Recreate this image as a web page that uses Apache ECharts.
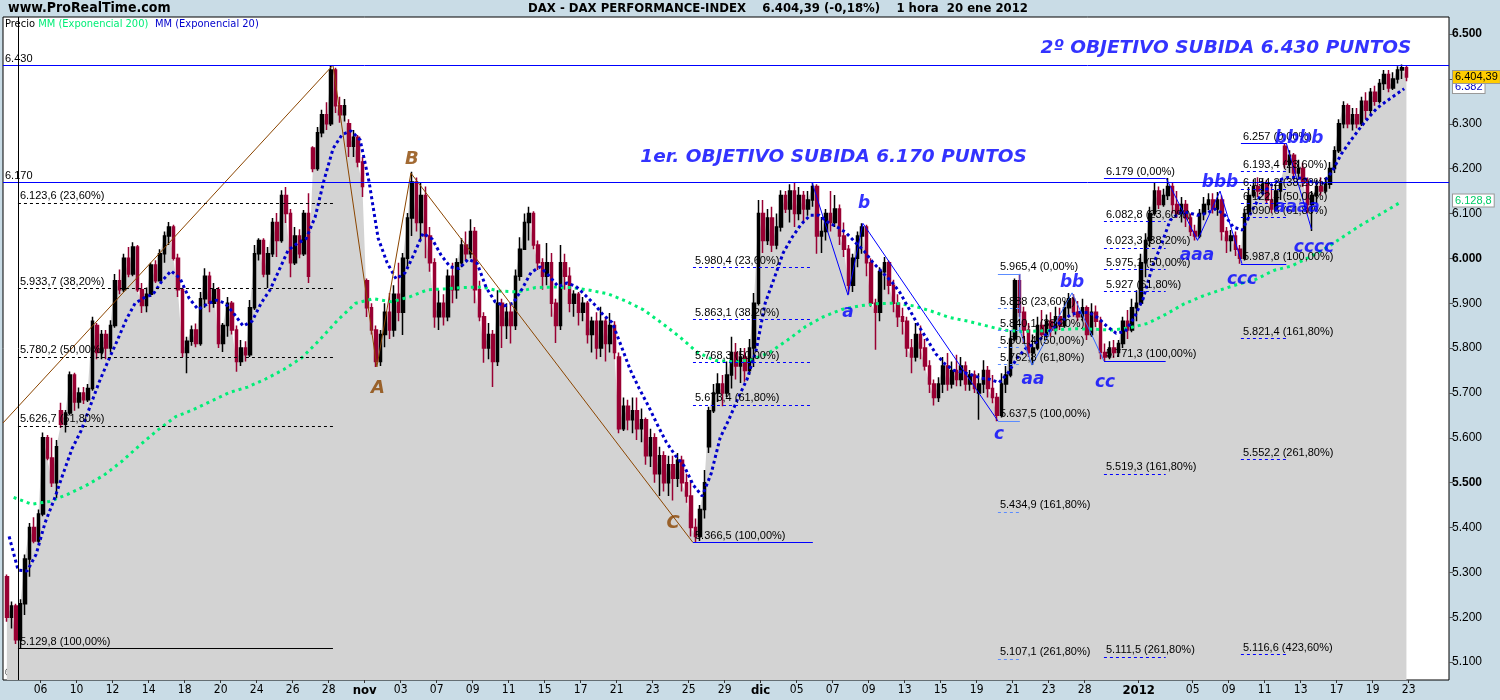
<!DOCTYPE html>
<html>
<head>
<meta charset="utf-8">
<script src="https://cdn.jsdelivr.net/npm/echarts@6.0.0/dist/echarts.min.js"></script>
<style>
  html, body { margin: 0; padding: 0; background: #c9dce6; }
  #chart { width: 1500px; height: 700px; }
</style>
</head>
<body>
<div id="chart"></div>
<script>
// x unit = trading day, 0 = 6 oct 2011; first session on screen is 4 oct
const firstDay = -2;
const barsPerDay = 4;

const tickDays = [0, 2, 4, 6, 8, 10, 12, 14, 16, 18, 20, 22, 24, 26, 28, 30, 32, 34, 36, 38,
  40, 42, 44, 46, 48, 50, 52, 54, 56, 58, 61, 64, 66, 68, 70, 72, 74, 76];
const tickText = ['06', '10', '12', '14', '18', '20', '24', '26', '28', 'nov', '03', '07', '09', '11', '15', '17', '21', '23', '25', '29',
  'dic', '05', '07', '09', '13', '15', '19', '21', '23', '28', '2012', '05', '09', '11', '13', '17', '19', '23'];
const boldTicks = ['nov', 'dic', '2012'];

const priceTicks = [5100, 5200, 5300, 5400, 5500, 5600, 5700, 5800, 5900, 6000, 6100, 6200, 6300, 6400, 6500];

// one row per session, 4 bars each: [open, close, low, high]
const ohlc = [
  [[5290,5200,5190,5295],[5200,5225,5175,5235],[5225,5150,5140,5230],[5150,5230,5130,5240]],
  [[5230,5330,5205,5340],[5330,5400,5290,5410],[5400,5370,5365,5423],[5370,5430,5365,5440]],
  [[5430,5600,5425,5612],[5600,5555,5550,5606],[5555,5500,5490,5600],[5500,5580,5465,5595]],
  [[5660,5630,5622,5678],[5630,5655,5612,5662],[5655,5740,5650,5748],[5740,5680,5660,5745]],
  [[5680,5700,5665,5712],[5700,5685,5675,5713],[5685,5710,5680,5720],[5710,5860,5705,5870]],
  [[5850,5790,5775,5856],[5790,5830,5775,5840],[5830,5800,5775,5840],[5800,5850,5790,5862]],
  [[5850,5950,5845,5965],[5950,5930,5920,5975],[5930,6000,5925,6010],[6000,5965,5958,6025]],
  [[5965,6025,5960,6036],[6025,5930,5925,6030],[5930,5895,5878,5945],[5895,5920,5880,5935]],
  [[5920,5985,5914,5990],[5985,5950,5945,5996],[5950,6010,5950,6020],[6010,6050,5990,6060]],
  [[6050,6070,6030,6081],[6070,6000,5995,6075],[6000,5930,5914,6010],[5930,5790,5780,5935]],
  [[5790,5815,5744,5825],[5815,5840,5805,5850],[5840,5810,5802,5855],[5810,5910,5805,5925]],
  [[5910,5960,5890,5978],[5960,5900,5880,5970],[5900,5930,5890,5945],[5930,5810,5800,5936]],
  [[5810,5850,5791,5856],[5850,5900,5825,5914],[5900,5840,5830,5905],[5840,5770,5747,5850]],
  [[5770,5800,5760,5818],[5800,5785,5770,5815],[5785,5890,5780,5907],[5890,6010,5885,6030]],
  [[6010,6040,5995,6045],[6040,5965,5958,6045],[5965,6010,5934,6025],[6010,6080,6003,6090]],
  [[6080,6040,6003,6101],[6040,6140,6035,6152],[6140,6100,6079,6159],[6100,5990,5958,6110]],
  [[5990,6050,5985,6070],[6050,6010,6000,6065],[6010,6100,6005,6108],[6100,5960,5945,6145]],
  [[6246,6200,6192,6250],[6200,6280,6195,6293],[6280,6320,6270,6331],[6320,6300,6286,6348]],
  [[6300,6420,6295,6431],[6420,6340,6324,6425],[6340,6320,6302,6360],[6320,6340,6305,6355]],
  [[6300,6250,6226,6310],[6250,6270,6226,6286],[6270,6215,6203,6275],[6215,6160,6137,6226]],
  [[5950,5890,5869,5955],[5890,5840,5830,5900],[5840,5770,5758,5850],[5770,5830,5760,5840]],
  [[5830,5880,5802,5900],[5880,5840,5820,5923],[5840,5920,5825,5940],[5920,5880,5860,5990]],
  [[5880,6000,5829,6012],[6000,6090,5981,6101],[6090,6170,6050,6193],[6170,6080,6060,6180]],
  [[6080,6140,6040,6168],[6140,6050,6000,6160],[6050,5990,5970,6070],[5990,5870,5845,6000]],
  [[5870,5900,5840,5929],[5900,5870,5850,5920],[5870,5960,5860,5975],[5960,5930,5900,5990]],
  [[5930,5990,5910,6000],[5990,6030,5980,6045],[6030,6010,5995,6060],[6010,6060,6000,6087]],
  [[6060,5930,5900,6070],[5930,5870,5860,5950],[5870,5800,5767,5880],[5800,5830,5775,5856]],
  [[5830,5770,5713,5840],[5770,5900,5760,5929],[5900,5850,5800,5910],[5850,5880,5820,5900]],
  [[5880,5850,5810,5900],[5850,5960,5840,5975],[5960,6020,5950,6047],[6020,6080,6019,6100]],
  [[6080,6100,6040,6115],[6100,6030,6020,6105],[6030,5990,5974,6040],[5990,5960,5930,6000]],
  [[5960,5990,5940,6034],[5990,5900,5870,6012],[5900,5850,5811,5910],[5850,5990,5840,6030]],
  [[5990,5960,5930,6010],[5960,5900,5880,5980],[5900,5920,5870,5929],[5920,5880,5850,5925]],
  [[5880,5900,5860,5914],[5900,5830,5810,5905],[5830,5860,5790,5870],[5860,5800,5775,5880]],
  [[5800,5860,5780,5892],[5860,5810,5770,5870],[5810,5850,5790,5878],[5850,5790,5775,5860]],
  [[5780,5620,5610,5790],[5620,5670,5615,5690],[5670,5640,5617,5685],[5640,5660,5610,5690]],
  [[5660,5620,5595,5690],[5620,5640,5590,5665],[5640,5560,5540,5645],[5560,5600,5535,5620]],
  [[5600,5520,5500,5610],[5520,5560,5470,5580],[5560,5500,5480,5570],[5500,5540,5470,5560]],
  [[5540,5510,5460,5560],[5510,5550,5490,5566],[5550,5500,5480,5560],[5500,5470,5455,5520]],
  [[5470,5400,5380,5506],[5400,5380,5366,5420],[5380,5440,5370,5450],[5440,5500,5420,5528]],
  [[5580,5660,5566,5669],[5660,5700,5655,5720],[5700,5720,5680,5744],[5720,5700,5670,5740]],
  [[5700,5740,5691,5770],[5740,5790,5710,5825],[5790,5760,5730,5811],[5760,5780,5722,5800]],
  [[5780,5750,5725,5800],[5750,5800,5740,5820],[5800,5900,5758,5923],[5900,6100,5895,6130]],
  [[6100,6040,6012,6130],[6040,6090,6030,6110],[6090,6030,6014,6115],[6030,6070,6020,6100]],
  [[6070,6140,6060,6152],[6140,6110,6101,6150],[6110,6150,6080,6165],[6150,6100,6070,6168]],
  [[6100,6140,6085,6159],[6140,6110,6079,6150],[6110,6130,6095,6150],[6130,6160,6115,6170]],
  [[6160,6050,6010,6165],[6050,6060,6012,6092],[6060,6100,6040,6110],[6100,6080,6060,6150]],
  [[6080,6110,6070,6141],[6110,6050,6030,6120],[6050,6020,6003,6080],[6020,5940,5920,6030]],
  [[5940,6000,5925,6010],[6000,6050,5980,6060],[6050,6070,6010,6078],[6070,5990,5960,6075]],
  [[5990,5900,5892,6000],[5900,5880,5796,5910],[5880,5970,5860,5980],[5970,5990,5930,6003]],
  [[5990,5940,5920,5995],[5940,5900,5880,5952],[5900,5870,5847,5920],[5870,5860,5830,5890]],
  [[5860,5800,5780,5870],[5800,5780,5744,5820],[5780,5830,5770,5856],[5830,5800,5775,5850]],
  [[5800,5760,5750,5820],[5760,5720,5700,5773],[5720,5690,5672,5730],[5690,5720,5680,5735]],
  [[5720,5760,5700,5780],[5760,5720,5705,5789],[5720,5750,5710,5770],[5750,5730,5715,5785]],
  [[5730,5760,5715,5780],[5760,5720,5705,5770],[5720,5740,5705,5751],[5740,5710,5700,5750]],
  [[5700,5720,5640,5744],[5720,5750,5700,5773],[5750,5710,5690,5760],[5710,5690,5677,5740]],
  [[5690,5650,5637,5700],[5650,5720,5645,5744],[5720,5740,5700,5760],[5740,5820,5735,5840]],
  [[5820,5950,5815,5955],[5950,5880,5870,5965],[5880,5840,5811,5892],[5840,5790,5780,5856]],
  [[5790,5800,5762,5830],[5800,5850,5795,5870],[5850,5830,5825,5885],[5830,5860,5820,5875]],
  [[5860,5840,5825,5880],[5840,5870,5830,5892],[5870,5850,5840,5890],[5850,5890,5845,5905]],
  [[5890,5910,5870,5923],[5910,5880,5870,5920],[5880,5870,5860,5905],[5870,5890,5860,5910]],
  [[5890,5830,5818,5895],[5830,5880,5825,5900],[5880,5860,5847,5895],[5860,5790,5775,5870]],
  [[5790,5780,5771,5810],[5780,5800,5775,5815],[5800,5790,5778,5818],[5790,5810,5780,5818]],
  [[5810,5860,5800,5870],[5860,5840,5820,5885],[5840,5890,5835,5910],[5890,5900,5860,5929]],
  [[5900,5990,5895,6010],[5990,6040,5958,6056],[6040,6100,6025,6115],[6100,6150,6095,6168]],
  [[6150,6120,6110,6160],[6120,6140,6115,6155],[6140,6160,6130,6179],[6160,6120,6100,6170]],
  [[6120,6100,6090,6150],[6100,6120,6080,6137],[6120,6090,6070,6130],[6090,6060,6050,6100]],
  [[6060,6050,6040,6075],[6050,6100,6045,6110],[6100,6120,6085,6137],[6120,6130,6108,6145]],
  [[6130,6110,6100,6145],[6110,6130,6095,6148],[6130,6060,6040,6140],[6060,6040,6012,6070]],
  [[6040,6050,6015,6063],[6050,6020,6005,6060],[6020,6000,5988,6030],[6000,6100,5995,6110]],
  [[6100,6140,6085,6159],[6140,6160,6135,6175],[6160,6150,6137,6181],[6150,6165,6140,6178]],
  [[6165,6130,6123,6175],[6130,6110,6101,6159],[6110,6150,6105,6165],[6150,6170,6130,6178]],
  [[6250,6210,6200,6257],[6210,6230,6190,6241],[6230,6190,6175,6235],[6190,6200,6175,6220]],
  [[6200,6170,6159,6213],[6170,6120,6100,6180],[6120,6140,6061,6150],[6140,6160,6123,6175]],
  [[6160,6150,6140,6181],[6150,6165,6145,6180],[6165,6200,6155,6215],[6200,6240,6190,6250]],
  [[6240,6300,6235,6310],[6300,6340,6290,6350],[6340,6300,6290,6345],[6300,6320,6285,6335]],
  [[6320,6300,6290,6335],[6300,6350,6295,6360],[6350,6330,6310,6370],[6330,6370,6320,6380]],
  [[6370,6350,6340,6385],[6350,6390,6345,6400],[6390,6410,6375,6420],[6410,6380,6370,6420]],
  [[6380,6400,6375,6415],[6400,6420,6390,6428],[6420,6425,6400,6432],[6425,6404,6395,6430]]
];

// MM exponencial 20, read twice per session
const ema20 = [
  5380,5305, 5303,5340, 5411,5462, 5520,5576, 5616,5670, 5724,5771, 5816,5863, 5900,5912, 5920,5950, 5972,5955,
  5911,5886, 5898,5907, 5900,5876, 5849,5860, 5900,5930, 5974,6018, 6033,6044, 6092,6175, 6245,6276, 6284,6264,
  6170,6045, 5990,5954, 5968,6010, 6056,6043, 6007,5981, 5977,5998, 5989,5935, 5903,5894, 5900,5932, 5969,5981,
  5961,5937, 5945,5937, 5918,5898, 5874,5857, 5805,5752, 5710,5672, 5630,5591, 5561,5537, 5495,5470, 5520,5600,
  5642,5689, 5731,5795, 5900,5955, 6012,6047, 6076,6096, 6096,6080, 6070,6057, 6036,6016, 5990,5969, 5949,5923,
  5887,5851, 5819,5786, 5764,5750, 5746,5740, 5733,5730, 5723,5745, 5778,5800, 5811,5827, 5845,5861, 5875,5880,
  5879,5867, 5848,5833, 5837,5868, 5910,5980, 6030,6085, 6101,6102, 6096,6100, 6110,6098, 6070,6063, 6103,6139,
  6160,6174, 6180,6180, 6177,6168, 6168,6194, 6232,6261, 6288,6313, 6335,6350, 6364,6378
];

// MM exponencial 200, read once per session
const ema200 = [
  5467,5452,5458,5474,5493,5516,5547,5583,5617,5647,
  5663,5682,5701,5713,5731,5752,5778,5818,5862,5900,
  5910,5903,5914,5930,5932,5935,5936,5927,5925,5935,
  5936,5935,5929,5921,5905,5885,5856,5825,5790,5772,
  5769,5774,5790,5818,5848,5870,5886,5894,5899,5900,
  5894,5882,5868,5860,5850,5840,5837,5838,5841,5843,
  5842,5840,5845,5855,5875,5898,5915,5929,5942,5953,
  5973,5983,6003,6025,6052,6078,6100,6124
];

// hand-drawn waves, [day, price]
const waveABC = [[-2.09, 5633], [16.24, 6430.6], [18.68, 5758], [20.57, 6190], [36.24, 5366.5]];
const waveAbc = [[42.85, 6170], [44.85, 5918], [45.68, 6078], [53.18, 5637.5]];
const waveAaBbCc = [[54.4, 5965.4], [54.4, 5840], [55.07, 5762], [57.3, 5923], [59.07, 5771.3]];
const waveAaaBbbCcc = [[62.52, 6179], [64.27, 6040], [65.52, 6150], [66.74, 5987.8]];
const waveBbbb = [[69.2, 6257], [70.6, 6065]];

const labelsABC = [['A', 18.74, 5711], ['B', 20.63, 6221], ['C', 35.13, 5410]];
const labelsSmall = [['a', 44.85, 5878], ['b', 45.74, 6121], ['c', 53.24, 5608], ['aa', 55.13, 5729], ['bb', 57.3, 5947],
  ['cc', 59.13, 5722], ['aaa', 64.24, 6007], ['bbb', 65.52, 6168], ['ccc', 66.74, 5952], ['aaaa', 69.79, 6114],
  ['bbbb', 69.91, 6266], ['cccc', 70.74, 6025]];
const objectives = [['2º OBJETIVO SUBIDA 6.430 PUNTOS', 55.52, 6469], ['1er. OBJETIVO SUBIDA 6.170 PUNTOS', 33.29, 6226]];
const targets = [[6430, '6.430'], [6170, '6.170']];
const fibAnchorDay = -1.26;

// fibonacci tools: span in days, then [price, text, line kind]
const fibSpan1 = [-1.26, 16.24];
const fibLevels1 = [[6430.6, '6.430,6 (0,00%)', 'none'], [6123.6, '6.123,6 (23,60%)', 'dash'], [5933.7, '5.933,7 (38,20%)', 'dash'],
  [5780.2, '5.780,2 (50,00%)', 'dash'], [5626.7, '5.626,7 (61,80%)', 'dash'], [5129.8, '5.129,8 (100,00%)', 'solid']];
const fibSpan2 = [36.24, 42.9];
const fibLevels2 = [[6170, '6.170 (0,00%)', 'none'], [5980.4, '5.980,4 (23,60%)', 'dash'], [5863.1, '5.863,1 (38,20%)', 'dash'],
  [5768.3, '5.768,3 (50,00%)', 'dash'], [5673.4, '5.673,4 (61,80%)', 'dash'], [5366.5, '5.366,5 (100,00%)', 'solid']];
const fibSpan3 = [53.18, 54.4];
const fibLevels3 = [[5965.4, '5.965,4 (0,00%)', 'solid'], [5888, '5.888 (23,60%)', 'dash'], [5840.1, '5.840,1 (38,20%)', 'dash'],
  [5801.4, '5.801,4 (50,00%)', 'dash'], [5762.8, '5.762,8 (61,80%)', 'dash'], [5637.5, '5.637,5 (100,00%)', 'solid'],
  [5434.9, '5.434,9 (161,80%)', 'dash'], [5107.1, '5.107,1 (261,80%)', 'dash']];
const fibSpan4 = [59.07, 62.5];
const fibLevels4 = [[6179, '6.179 (0,00%)', 'solid'], [6082.8, '6.082,8 (23,60%)', 'dash'], [6023.3, '6.023,3 (38,20%)', 'dash'],
  [5975.1, '5.975,1 (50,00%)', 'dash'], [5927, '5.927 (61,80%)', 'dash'], [5771.3, '5.771,3 (100,00%)', 'solid'],
  [5519.3, '5.519,3 (161,80%)', 'dash'], [5111.5, '5.111,5 (261,80%)', 'dash']];
const fibSpan5 = [66.68, 69.2];
const fibLevels5 = [[6257, '6.257 (0,00%)', 'solid'], [6193.4, '6.193,4 (23,60%)', 'dash'], [6154.2, '6.154,2 (38,20%)', 'dash'],
  [6122.4, '6.122,4 (50,00%)', 'dash'], [6090.6, '6.090,6 (61,80%)', 'dash'], [5987.8, '5.987,8 (100,00%)', 'solid'],
  [5821.4, '5.821,4 (161,80%)', 'dash'], [5552.2, '5.552,2 (261,80%)', 'dash'], [5116.6, '5.116,6 (423,60%)', 'dash']];

const lastPrice = 6404.39;
const lastEma20 = 6382;
const lastEma200 = 6128.8;

const narrow = "'Liberation Sans Narrow','DejaVu Sans Condensed',sans-serif";
const sans = "'Liberation Sans',Arial,sans-serif";
const deja = "'DejaVu Sans',Verdana,sans-serif";
const blue = '#0000ff';
const brown = '#8b4500';
const red = '#990033';
const green = '#00ee77';

const fmt = (v) => {
  const [i, d] = String(v).split('.');
  return i.replace(/\B(?=(\d{3})+(?!\d))/g, '.') + (d ? ',' + d : '');
};

const bars = [];
ohlc.forEach((day, d) => day.forEach((b, k) => {
  bars.push([firstDay + d + (k + 0.5) / barsPerDay, b[0], b[1], b[2], b[3]]);
}));
const closeLine = bars.map((b) => [b[0], b[2]]);
const ema20Line = ema20.map((v, i) => [firstDay + (i + 0.5) / 2, v]);
const ema200Line = ema200.map((v, i) => [firstDay + i + 0.5, v]);

const fibMarks = (span, levels, color) => levels.map(([v, text, kind]) => [
  {
    coord: [span[0], v],
    lineStyle: { color, width: 1, type: kind === 'dash' ? [3, 3] : 'solid', opacity: kind === 'none' ? 0 : 1 },
    label: { show: true, formatter: text, position: 'insideStartTop', distance: [2, 1], color: '#000', fontFamily: sans, fontSize: 11 },
  },
  { coord: [span[1], v] },
]);

const wave = (points, color) => ({
  type: 'line', data: points, showSymbol: false, silent: true, z: 4,
  lineStyle: { color, width: 1 },
});

const textSeries = (items, color, size, extra) => ({
  type: 'scatter', symbolSize: 1, silent: true, z: 6,
  itemStyle: { color: 'transparent' },
  data: items.map(([t, x, y]) => ({ name: t, value: [x, y] })),
  label: Object.assign({
    show: true, position: 'inside', formatter: '{b}', color,
    fontFamily: deja, fontSize: size, fontWeight: 'bold', fontStyle: 'italic',
  }, extra || {}),
});

const chart = echarts.init(document.getElementById('chart'));

chart.setOption({
  animation: false,
  backgroundColor: '#c9dce6',
  grid: { left: 3, right: 51, top: 17, bottom: 20, show: true, backgroundColor: '#fff', borderColor: '#000', borderWidth: 1 },
  xAxis: {
    type: 'value', min: -2.09, max: 78.24,
    axisLine: { show: false, onZero: false },
    splitLine: { show: false },
    axisTick: { show: true, customValues: tickDays, length: 3, lineStyle: { color: '#333' } },
    axisLabel: {
      customValues: tickDays, margin: 4, color: '#000', fontFamily: narrow, fontSize: 12,
      formatter: (v) => {
        const t = tickText[tickDays.indexOf(v)] || '';
        return boldTicks.includes(t) ? '{b|' + t + '}' : t;
      },
      rich: { b: { fontWeight: 'bold', fontFamily: narrow, fontSize: 13 } },
    },
  },
  yAxis: {
    type: 'value', position: 'right', min: 5060, max: 6538,
    axisLine: { show: false, onZero: false },
    splitLine: { show: false },
    axisTick: { show: true, customValues: priceTicks, length: 4, lineStyle: { color: '#555' } },
    axisLabel: {
      customValues: priceTicks, margin: 3, color: '#000', fontFamily: sans, fontSize: 12,
      formatter: (v) => (v % 500 === 0 ? '{b|' + fmt(v) + '}' : fmt(v)),
      rich: { b: { fontWeight: 'bold', fontFamily: sans, fontSize: 12 } },
    },
  },
  series: [
    {
      type: 'line', data: closeLine, showSymbol: false, silent: true, z: 1,
      lineStyle: { width: 0 },
      areaStyle: { color: '#d3d3d3', opacity: 1, origin: 'start' },
      markLine: {
        silent: true, symbol: ['none', 'none'], animation: false,
        data: [
          ...targets.map(([v, t]) => ({
            yAxis: v, lineStyle: { color: blue, width: 1, type: 'solid' },
            label: { show: true, formatter: t, position: 'insideStartTop', distance: [2, 1], color: '#000', fontFamily: sans, fontSize: 11 },
          })),
          { xAxis: fibAnchorDay, lineStyle: { color: '#000', width: 1, type: 'solid' }, label: { show: false } },
          ...fibMarks(fibSpan1, fibLevels1, '#000'),
          ...fibMarks(fibSpan2, fibLevels2, blue),
          ...fibMarks(fibSpan3, fibLevels3, '#5b8cff'),
          ...fibMarks(fibSpan4, fibLevels4, blue),
          ...fibMarks(fibSpan5, fibLevels5, blue),
        ],
      },
    },
    {
      type: 'candlestick', data: bars, encode: { x: 0, y: [1, 2, 3, 4] },
      barWidth: 3, silent: true, z: 2,
      itemStyle: { color: '#000', color0: red, borderColor: '#000', borderColor0: red, borderWidth: 1.5 },
    },
    {
      type: 'line', data: ema200Line, showSymbol: false, silent: true, z: 3,
      lineStyle: { color: green, width: 3, type: [3, 4] },
    },
    {
      type: 'line', data: ema20Line, showSymbol: false, silent: true, z: 3,
      lineStyle: { color: '#0000cc', width: 3, type: [3, 3] },
    },
    wave(waveABC, brown),
    wave(waveAbc, blue),
    wave(waveAaBbCc, '#3366ff'),
    wave(waveAaaBbbCcc, blue),
    wave(waveBbbb, blue),
    textSeries(labelsABC, brown, 18),
    textSeries(labelsSmall, blue, 17),
    textSeries(objectives, blue, 18.5, { position: 'right', distance: 0 }),
  ],
});

const py = (v) => chart.convertToPixel({ yAxisIndex: 0 }, v);
const tag = (v, text, fill, bg, z) => ({
  type: 'text', x: 1453, y: py(v), z,
  style: {
    text, fill, backgroundColor: bg, borderColor: '#999', borderWidth: 1,
    padding: [1, 2, 0, 2], font: '11px ' + sans, verticalAlign: 'middle',
  },
});

chart.setOption({
  graphic: [
    { type: 'text', left: 8, top: 1, style: { text: 'www.ProRealTime.com', font: 'bold 14px ' + narrow, fill: '#000' } },
    {
      type: 'text', x: 778, y: 2,
      style: { text: 'DAX - DAX PERFORMANCE-INDEX    6.404,39 (-0,18%)    1 hora  20 ene 2012', textAlign: 'center', font: 'bold 13px ' + narrow, fill: '#000' },
    },
    {
      type: 'text', x: 5, y: 18,
      style: {
        text: '{a|Precio} {g|MM (Exponencial 200)}  {b|MM (Exponencial 20)}',
        rich: {
          a: { fill: '#000', font: '11px ' + narrow },
          g: { fill: green, font: '11px ' + narrow },
          b: { fill: '#0000cc', font: '11px ' + narrow },
        },
      },
    },
    { type: 'text', x: 5, y: 668, style: { text: '© ProRealTime.com', font: '10px ' + sans, fill: '#000' } },
    tag(lastEma200, fmt(lastEma200), '#00cc66', '#fff', 10),
    tag(lastEma20, fmt(lastEma20), '#0000cc', '#fff', 10),
    tag(lastPrice, fmt(lastPrice), '#000', '#ffcc00', 11),
  ],
});
</script>
</body>
</html>
